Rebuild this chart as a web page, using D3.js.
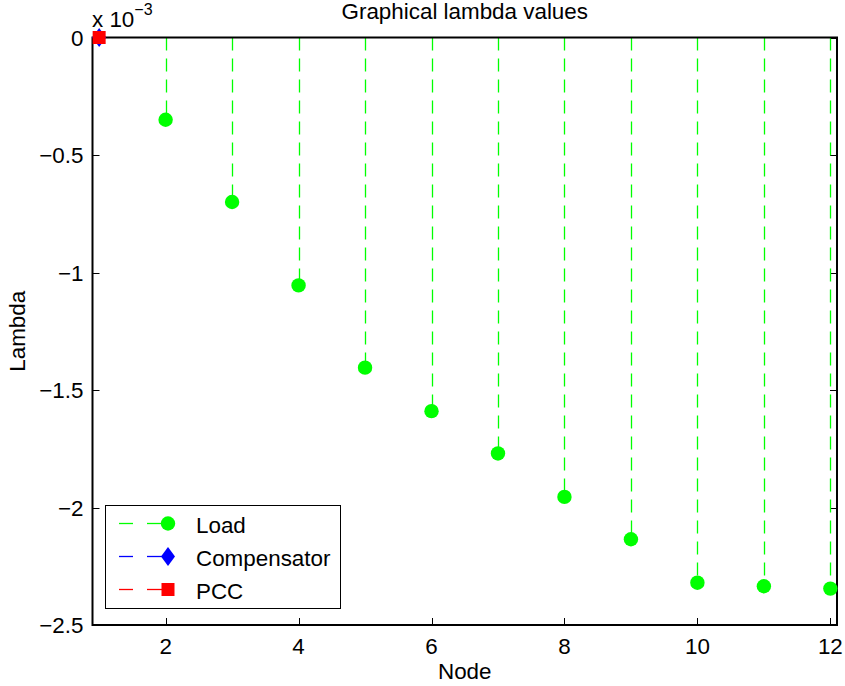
<!DOCTYPE html>
<html>
<head>
<meta charset="utf-8">
<script src="https://cdn.jsdelivr.net/npm/d3@7"></script>
<style>
  body { margin: 0; background: #fff; }
  svg text { font-family: "Liberation Sans", Arial, Helvetica, sans-serif; fill: #000; }
</style>
</head>
<body>
<svg id="chart"></svg>
<script>
// data (lambda values, real units)
var loadNodes = [2, 3, 4, 5, 6, 7, 8, 9, 10, 11, 12]
var loadValues = [-0.35e-3, -0.70e-3, -1.055e-3, -1.405e-3, -1.59e-3, -1.77e-3, -1.955e-3, -2.135e-3, -2.32e-3, -2.335e-3, -2.345e-3]
var compNodes = [1]
var compValues = [0]
var pccNodes = [1]
var pccValues = [0]
var xTicks = [2, 4, 6, 8, 10, 12]
var yTicks = [0, -0.5e-3, -1e-3, -1.5e-3, -2e-3, -2.5e-3]
var legendLabels = ["Load", "Compensator", "PCC"]

var dimensions = {
  width: 845,
  height: 686,
  margin: { top: 37.5, bottom: 61, right: 8, left: 92.5 }
}

var svg = d3.select("#chart")
  .attr("width", dimensions.width)
  .attr("height", dimensions.height)

var x0 = dimensions.margin.left
var x1 = dimensions.width - dimensions.margin.right
var y0 = dimensions.margin.top
var y1 = dimensions.height - dimensions.margin.bottom

var xScale = d3.scaleLinear().domain([0.9, 12.1]).range([x0, x1])
var yScale = d3.scaleLinear().domain([-2.5e-3, 0]).range([y1, y0])

var fontSize = 22.4
var fmt = d => d3.format("")(+(d * 1e3).toFixed(1))

// ticks on all four sides, pointing inward
var tick = 7
var ticksG = svg.append("g").attr("stroke", "#000").attr("stroke-width", 1)
xTicks.forEach(function (t) {
  var xp = Math.round(xScale(t)) + 0.5
  ticksG.append("line").attr("x1", xp).attr("x2", xp).attr("y1", y1).attr("y2", y1 - tick)
  ticksG.append("line").attr("x1", xp).attr("x2", xp).attr("y1", y0).attr("y2", y0 + tick)
})
yTicks.forEach(function (t) {
  var yp = Math.round(yScale(t)) + 0.5
  ticksG.append("line").attr("x1", x0).attr("x2", x0 + tick).attr("y1", yp).attr("y2", yp)
  ticksG.append("line").attr("x1", x1).attr("x2", x1 - tick).attr("y1", yp).attr("y2", yp)
})

// stems
var green = "#00ff00"
svg.append("g")
  .selectAll("line")
  .data(loadNodes)
  .enter()
  .append("line")
  .attr("x1", d => Math.round(xScale(d)) + 0.5)
  .attr("x2", d => Math.round(xScale(d)) + 0.5)
  .attr("y1", yScale(0))
  .attr("y2", (d, i) => yScale(loadValues[i]))
  .attr("stroke", green)
  .attr("stroke-width", 1.3)
  .attr("stroke-dasharray", "13,8")

// box
svg.append("rect")
  .attr("x", x0).attr("y", y0)
  .attr("width", x1 - x0).attr("height", y1 - y0)
  .attr("fill", "none").attr("stroke", "#000").attr("stroke-width", 2)

// markers
svg.append("g")
  .selectAll("circle")
  .data(loadNodes)
  .enter()
  .append("circle")
  .attr("cx", d => xScale(d))
  .attr("cy", (d, i) => yScale(loadValues[i]))
  .attr("r", 7.2)
  .attr("fill", green)

function diamond(cx, cy) {
  return `M${cx},${cy - 9.5}L${cx + 7},${cy}L${cx},${cy + 9.5}L${cx - 7},${cy}Z`
}

svg.append("g")
  .selectAll("path")
  .data(compNodes)
  .enter()
  .append("path")
  .attr("d", (d, i) => diamond(xScale(d), yScale(compValues[i])))
  .attr("fill", "#0000ff")

svg.append("g")
  .selectAll("rect")
  .data(pccNodes)
  .enter()
  .append("rect")
  .attr("x", d => xScale(d) - 6.5)
  .attr("y", (d, i) => yScale(pccValues[i]) - 6.5)
  .attr("width", 13)
  .attr("height", 13)
  .attr("fill", "#ff0000")

// tick labels
svg.append("g")
  .selectAll("text")
  .data(xTicks)
  .enter()
  .append("text")
  .attr("x", d => xScale(d))
  .attr("y", y1 + 29)
  .attr("text-anchor", "middle")
  .attr("font-size", fontSize)
  .text(d => d)

svg.append("g")
  .selectAll("text")
  .data(yTicks)
  .enter()
  .append("text")
  .attr("x", x0 - 9)
  .attr("y", d => yScale(d) + 8.3)
  .attr("text-anchor", "end")
  .attr("font-size", fontSize)
  .text(d => fmt(d))

// exponent label
var expo = svg.append("text")
  .attr("x", 92)
  .attr("y", 27)
  .attr("font-size", fontSize)
expo.append("tspan").text("x 10")
expo.append("tspan").attr("dy", -12).attr("font-size", 16).text("\u22123")

// title and axis labels
svg.append("text")
  .attr("x", (x0 + x1) / 2)
  .attr("y", 18.5)
  .attr("text-anchor", "middle")
  .attr("font-size", fontSize)
  .text("Graphical lambda values")

svg.append("text")
  .attr("x", (x0 + x1) / 2)
  .attr("y", 679)
  .attr("text-anchor", "middle")
  .attr("font-size", fontSize)
  .text("Node")

svg.append("text")
  .attr("transform", `translate(25,${(y0 + y1) / 2}) rotate(-90)`)
  .attr("text-anchor", "middle")
  .attr("font-size", fontSize)
  .text("Lambda")

// legend
var legend = svg.append("g")
legend.append("rect")
  .attr("x", 105.5).attr("y", 505.5)
  .attr("width", 235).attr("height", 103)
  .attr("fill", "#fff").attr("stroke", "#000").attr("stroke-width", 1)

var legendColors = [green, "#0000ff", "#ff0000"]
legendLabels.forEach(function (label, i) {
  var cy = 523.5 + i * 33
  legend.append("line")
    .attr("x1", 119).attr("x2", 133).attr("y1", cy).attr("y2", cy)
    .attr("stroke", legendColors[i]).attr("stroke-width", 1.3)
  legend.append("line")
    .attr("x1", 147).attr("x2", 168).attr("y1", cy).attr("y2", cy)
    .attr("stroke", legendColors[i]).attr("stroke-width", 1.3)
  if (i == 0) {
    legend.append("circle").attr("cx", 168).attr("cy", cy).attr("r", 7.2).attr("fill", green)
  } else if (i == 1) {
    legend.append("path").attr("d", diamond(168, cy)).attr("fill", "#0000ff")
  } else {
    legend.append("rect").attr("x", 161.5).attr("y", cy - 6.5).attr("width", 13).attr("height", 13).attr("fill", "#ff0000")
  }
  legend.append("text")
    .attr("x", 196)
    .attr("y", cy + 9.5)
    .attr("font-size", fontSize)
    .text(label)
})
</script>
</body>
</html>
